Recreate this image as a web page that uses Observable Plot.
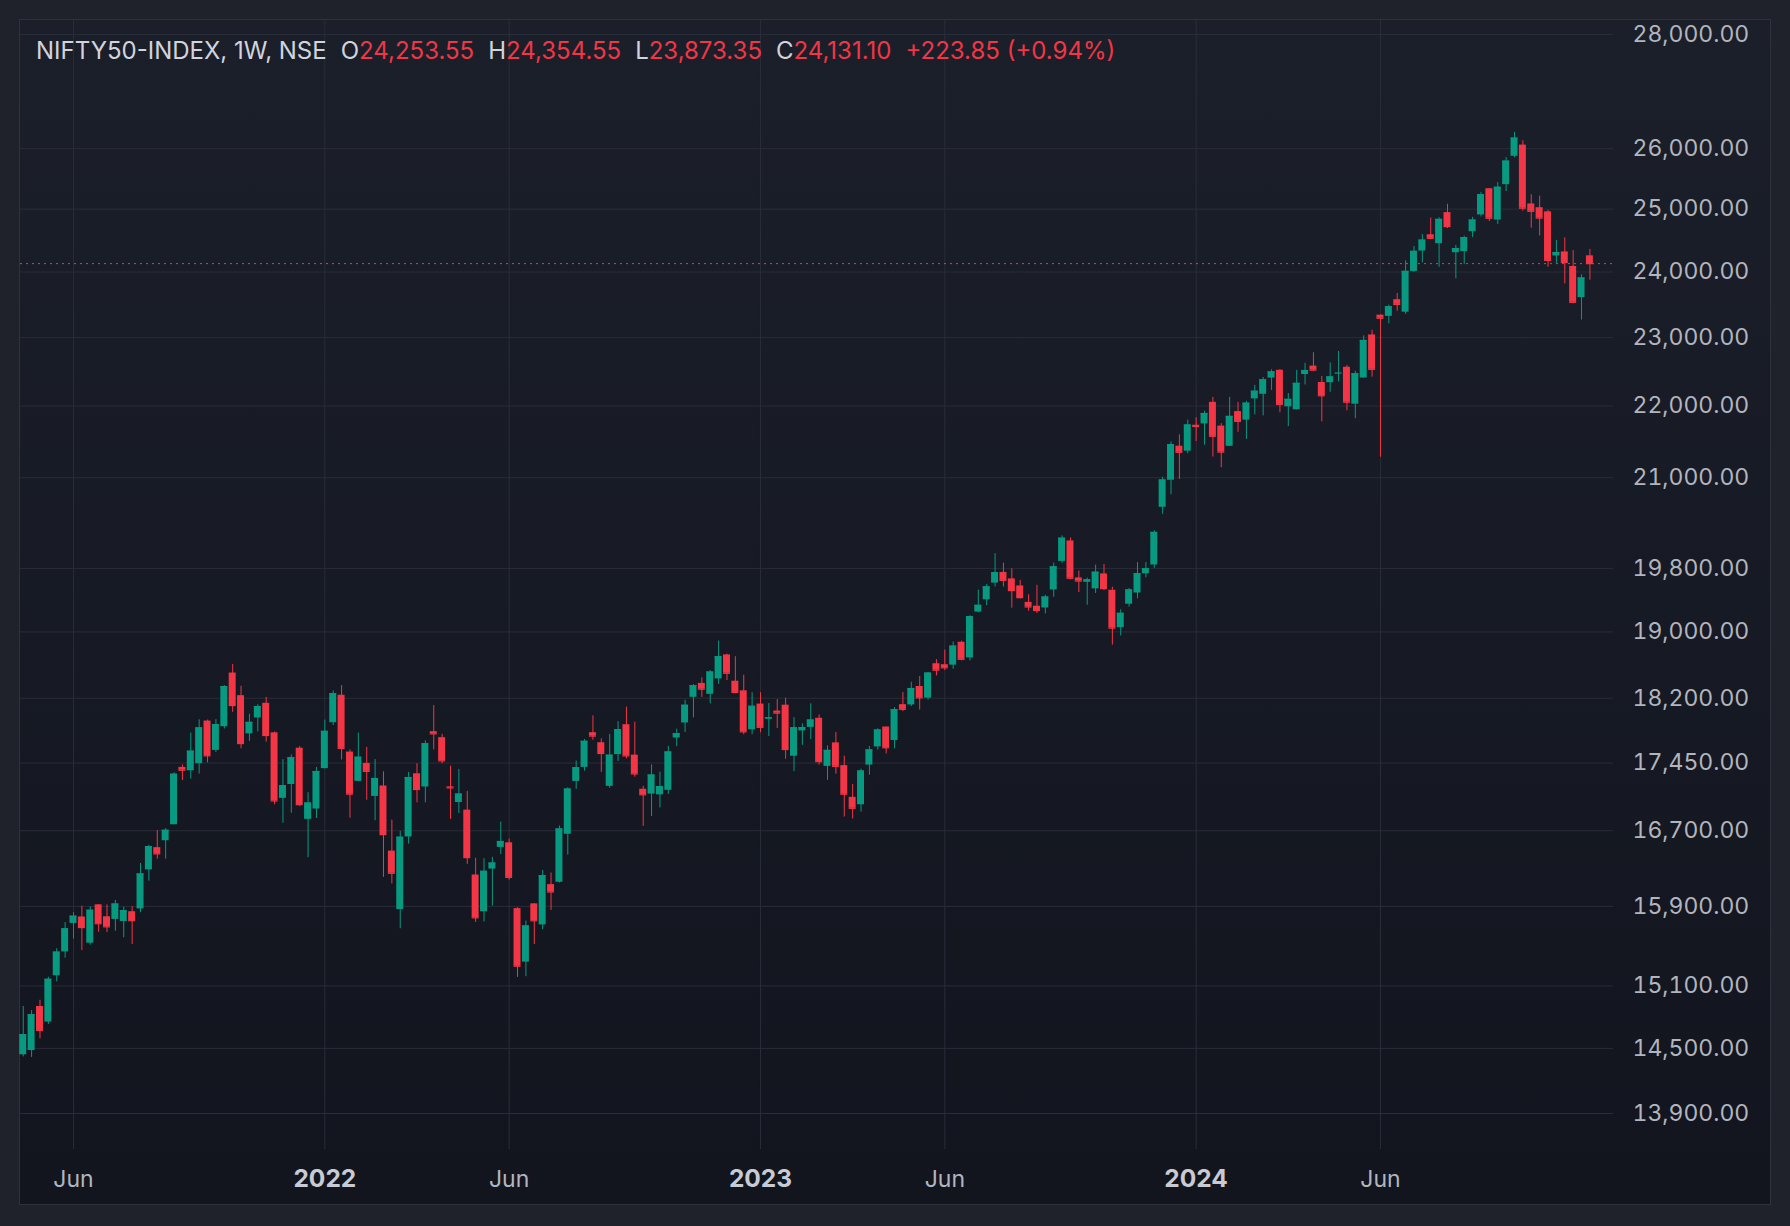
<!DOCTYPE html>
<html><head><meta charset="utf-8">
<script src="https://cdn.jsdelivr.net/npm/d3@7"></script>
<script src="https://cdn.jsdelivr.net/npm/@observablehq/plot@0.6"></script>
<style>
html,body{margin:0;padding:0;background:#1f222a;width:1790px;height:1226px;overflow:hidden;}
#pane{position:absolute;left:19px;top:19px;width:1750px;height:1184px;border:1px solid #2e323d;background:linear-gradient(#1b1f2a,#12151e);}
#chart{position:absolute;left:0;top:0;}
#header{position:absolute;left:36px;top:37px;font-family:Inter,"Noto Sans",sans-serif;font-size:24px;line-height:28px;color:#d1d4dc;white-space:pre;}
#header .v{color:#f23645}
#header .g{margin-left:14px}
</style></head><body>
<div id="pane"></div>
<div id="chart"></div>
<div id="header"></div>
<script>
const symbolLabel = "NIFTY50-INDEX, 1W, NSE";
const changeLabel = "+223.85 (+0.94%)";

const weeks = [
"2021-04-26","2021-05-03","2021-05-10","2021-05-17","2021-05-24","2021-05-31","2021-06-07","2021-06-14","2021-06-21","2021-06-28",
"2021-07-05","2021-07-12","2021-07-19","2021-07-26","2021-08-02","2021-08-09","2021-08-16","2021-08-23","2021-08-30","2021-09-06",
"2021-09-13","2021-09-20","2021-09-27","2021-10-04","2021-10-11","2021-10-18","2021-10-25","2021-11-01","2021-11-08","2021-11-15",
"2021-11-22","2021-11-29","2021-12-06","2021-12-13","2021-12-20","2021-12-27","2022-01-03","2022-01-10","2022-01-17","2022-01-24",
"2022-01-31","2022-02-07","2022-02-14","2022-02-21","2022-02-28","2022-03-07","2022-03-14","2022-03-21","2022-03-28","2022-04-04",
"2022-04-11","2022-04-18","2022-04-25","2022-05-02","2022-05-09","2022-05-16","2022-05-23","2022-05-30","2022-06-06","2022-06-13",
"2022-06-20","2022-06-27","2022-07-04","2022-07-11","2022-07-18","2022-07-25","2022-08-01","2022-08-08","2022-08-15","2022-08-22",
"2022-08-29","2022-09-05","2022-09-12","2022-09-19","2022-09-26","2022-10-03","2022-10-10","2022-10-17","2022-10-24","2022-10-31",
"2022-11-07","2022-11-14","2022-11-21","2022-11-28","2022-12-05","2022-12-12","2022-12-19","2022-12-26","2023-01-02","2023-01-09",
"2023-01-16","2023-01-23","2023-01-30","2023-02-06","2023-02-13","2023-02-20","2023-02-27","2023-03-06","2023-03-13","2023-03-20",
"2023-03-27","2023-04-03","2023-04-10","2023-04-17","2023-04-24","2023-05-01","2023-05-08","2023-05-15","2023-05-22","2023-05-29",
"2023-06-05","2023-06-12","2023-06-19","2023-06-26","2023-07-03","2023-07-10","2023-07-17","2023-07-24","2023-07-31","2023-08-07",
"2023-08-14","2023-08-21","2023-08-28","2023-09-04","2023-09-11","2023-09-18","2023-09-25","2023-10-02","2023-10-09","2023-10-16",
"2023-10-23","2023-10-30","2023-11-06","2023-11-13","2023-11-20","2023-11-27","2023-12-04","2023-12-11","2023-12-18","2023-12-25",
"2024-01-01","2024-01-08","2024-01-15","2024-01-22","2024-01-29","2024-02-05","2024-02-12","2024-02-19","2024-02-26","2024-03-04",
"2024-03-11","2024-03-18","2024-03-25","2024-04-01","2024-04-08","2024-04-15","2024-04-22","2024-04-29","2024-05-06","2024-05-13",
"2024-05-20","2024-05-27","2024-06-03","2024-06-10","2024-06-17","2024-06-24","2024-07-01","2024-07-08","2024-07-15","2024-07-22",
"2024-07-29","2024-08-05","2024-08-12","2024-08-19","2024-08-26","2024-09-02","2024-09-09","2024-09-16","2024-09-23","2024-09-30",
"2024-10-07","2024-10-14","2024-10-21","2024-10-28","2024-11-04","2024-11-11","2024-11-18","2024-11-25"];

const open = [
14440,14480,14900,14750,15200,15437,15725,15791,15525,15916,
15793,15766,15745,15845,15874,16281,16518,16592,16765,17401,
17363,17443,17932,17594,17867,18500,18230,17784,17968,18140,
17796,17055,17209,17619,16824,16937,17387,17913,18235,17575,
17244,17446,17076,17192,16481,15867,16633,17329,17181,17809,
17740,17183,17009,16925,16227,15845,16290,16520,16570,15877,
15335,15926,15710,16126,16151,16662,17243,17401,17797,17682,
17188,17546,17890,17540,17156,17102,17094,17144,17736,17910,
18211,18376,18246,18430,18719,18402,18288,17831,18131,17955,
18049,18118,17527,17818,17859,17965,17412,17680,17421,17066,
16984,17427,17634,17863,17707,18124,18121,18339,18201,18612,
18600,18595,18873,18683,19246,19400,19612,19748,19666,19576,
19368,19320,19298,19525,19890,20156,19678,19622,19539,19729,
19521,19053,19345,19486,19731,19844,20601,20966,21434,21365,
21728,21747,22053,21716,21433,21921,21800,22103,22169,22403,
22517,21990,21947,22455,22578,22339,22336,22475,22561,22027,
22404,23039,23337,23319,23573,23382,24009,24329,24587,24445,
24943,24302,24320,24636,24906,25333,24823,25400,25872,26061,
25084,25023,24956,24251,24315,24087,23605,24253.55];

const high = [
14900,14860,14960,15185,15469,15733,15835,15901,15895,15916,
15915,15962,15890,15897,16349,16543,16702,16722,17340,17430,
17793,17947,17943,17948,18350,18604,18342,18012,18123,18210,
17805,17489,17543,17639,17118,17400,17944,18286,18350,17599,
17794,17629,17490,17351,16815,16694,17344,17442,17703,18114,
17779,17414,17377,17132,16404,16400,16414,16794,16610,15886,
15749,15927,16275,16248,16752,17172,17474,17719,17992,17726,
17778,17926,18096,17919,17188,17429,17348,17640,17838,18176,
18362,18442,18529,18888,18728,18697,18473,18265,18265,18137,
18184,18201,17972,17900,18134,18004,17645,17800,17529,17208,
17381,17638,17842,17863,18089,18267,18389,18458,18508,18662,
18777,18876,18887,19201,19523,19595,19991,19867,19795,19646,
19465,19584,19457,19867,20222,20195,19766,19676,19843,19850,
19560,19276,19544,19875,19875,20291,21006,21492,21593,21801,
21834,21928,22124,21750,22126,22053,22068,22297,22412,22525,
22527,22180,22516,22619,22775,22427,22625,22794,22588,22502,
23026,23110,23338,23490,23667,24174,24401,24592,24854,24861,
25078,24419,24563,24867,25268,25333,25433,25849,26277,26134,
25234,25212,24978,24498,24537,24336,23956,24354.55];

const low = [
14420,14416,14590,14727,15140,15374,15567,15450,15505,15635,
15632,15645,15580,15512,15834,16162,16395,16395,16765,17254,
17269,17327,17452,17571,17840,18034,17613,17697,17806,17688,
16983,16782,16891,16966,16410,16833,17383,17880,17485,16836,
17244,17034,16809,16203,16133,15671,16556,17006,17006,17600,
17442,16824,16888,16340,15735,15740,15903,16444,16172,15184,
15191,15511,15661,15858,16142,16438,17154,17359,17710,17345,
17167,17468,17497,17291,16748,16855,16950,17098,17637,17800,
17969,18209,18133,18365,18410,18255,17774,17774,17796,17753,
17845,17493,17353,17652,17719,17427,17255,17324,16850,16828,
16902,17312,17597,17553,17612,18042,18101,18060,18178,18464,
18529,18545,18647,18647,19236,19327,19562,19563,19296,19412,
19257,19229,19224,19432,19865,19657,19492,19333,19480,19518,
18838,18950,19309,19414,19680,19801,20507,20770,20977,21330,
21500,21448,21285,21137,21429,21629,21530,21875,21860,22224,
21905,21710,21947,22303,22503,21777,22198,22348,21932,21821,
22404,22417,21281,23206,23398,23350,23992,24141,24509,24074,
24686,23894,24116,24542,24873,24801,24753,25286,25847,24966,
24694,24567,24074,24135,23816,23509,23263,23873.35];

const close = [
14630,14820,14670,15165,15435,15670,15799,15683,15860,15722,
15690,15924,15856,15753,16238,16529,16451,16705,17324,17369,
17585,17853,17532,17891,18338,18114,17672,17917,18102,17765,
17026,17196,17511,16985,17003,17354,17813,18255,17617,17101,
17516,17356,17276,16658,16245,16630,17287,17153,17670,17784,
17475,17171,17102,16411,15782,16266,16353,16584,16202,15294,
15699,15752,16220,16049,16719,17158,17397,17698,17758,17559,
17539,17833,17531,17327,17094,17315,17186,17576,17786,18117,
18349,18307,18512,18697,18497,18269,17807,18105,17859,17970,
18025,17604,17854,17856,17944,17466,17594,17413,17100,16945,
17360,17599,17828,17624,18065,18069,18315,18204,18499,18534,
18563,18826,18665,19189,19331,19564,19745,19646,19517,19428,
19310,19266,19435,19820,20192,19674,19638,19653,19751,19542,
19047,19231,19525,19732,19795,20268,20969,21457,21349,21731,
21711,21894,21572,21352,21853,21782,22041,22213,22378,22493,
22023,22096,22327,22513,22519,22147,22420,22476,22055,22466,
22957,22531,23290,23465,23501,24010,24324,24502,24530,24834,
24718,24368,24541,24823,25236,24852,25357,25791,26179,25015,
24964,24854,24181,24304,24148,23532,23907,24131.10];

const yTicks = [28000,26000,25000,24000,23000,22000,21000,19800,19000,18200,17450,16700,15900,15100,14500,13900];
const xTickWeeks = ["2021-06-07","2022-01-03","2022-06-06","2023-01-02","2023-06-05","2024-01-01","2024-06-03"];
const xTickLabels = ["Jun","2022","Jun","2023","Jun","2024","Jun"];
const xTickIsYear = [false,true,false,true,false,true,false];

[open,high,low,close].forEach((a,k)=>{ if (a.length!==weeks.length) throw new Error("length mismatch "+k+": "+a.length+" vs "+weeks.length); });

const candles = weeks.map((w,i)=>({week:w, open:open[i], high:high[i], low:low[i], close:close[i]}));
const up = candles.filter(d=>d.close>=d.open);
const down = candles.filter(d=>d.close<d.open);
const xt = xTickWeeks.map((w,i)=>({week:w, label:xTickLabels[i], year:xTickIsYear[i]}));

const GREEN="#089981", RED="#f23645", GRID="#292d39";
const fmt = d3.format(",.2f");

const bodyOpts = {insetLeft:0.7, insetRight:0.7};
const plot = Plot.plot({
  width:1790, height:1226,
  marginLeft:20, marginRight:177, marginTop:20, marginBottom:77,
  style:{background:"transparent", fontFamily:"Inter, 'Noto Sans', sans-serif", fontSize:"23px", color:"#b2b5be", overflow:"visible"},
  x:{type:"band", domain:weeks, range:[18.54,1593.6], paddingInner:0, paddingOuter:0, axis:null},
  y:{type:"log", domain:[13900,28000], range:[1113,34], axis:null},
  marks:[
    Plot.ruleY(yTicks,{stroke:GRID}),
    Plot.ruleX(xTickWeeks,{stroke:GRID}),
    Plot.ruleX(up,{x:"week",y1:"low",y2:"high",stroke:GREEN,strokeWidth:1}),
    Plot.ruleX(down,{x:"week",y1:"low",y2:"high",stroke:RED,strokeWidth:1}),
    Plot.barY(up,{x:"week",y1:"open",y2:"close",fill:GREEN,...bodyOpts}),
    Plot.barY(down,{x:"week",y1:"open",y2:"close",fill:RED,...bodyOpts}),
    Plot.tickY(up,{x:"week",y:"close",stroke:GREEN,strokeWidth:1.2,...bodyOpts}),
    Plot.tickY(down,{x:"week",y:"close",stroke:RED,strokeWidth:1.2,...bodyOpts}),
    Plot.ruleY([close[close.length-1]],{stroke:RED,strokeWidth:1,strokeDasharray:"2,4"}),
    Plot.axisY({ticks:yTicks, anchor:"right", tickSize:0, tickPadding:19, tickFormat:fmt, fill:"#b2b5be", fontSize:23}),
    Plot.text(xt.filter(d=>!d.year),{x:"week",text:"label",frameAnchor:"bottom",dy:30,lineAnchor:"middle",fill:"#b2b5be",fontSize:23}),
    Plot.text(xt.filter(d=>d.year),{x:"week",text:"label",frameAnchor:"bottom",dy:30,lineAnchor:"middle",fill:"#c8cbd3",fontSize:24.5,fontWeight:700})
  ]
});
document.getElementById("chart").appendChild(plot);

const last = candles[candles.length-1];
const h = document.getElementById("header");
const parts = [
  `<span>${symbolLabel}</span>`,
  `<span class="g">O<span class="v">${fmt(last.open)}</span></span>`,
  `<span class="g">H<span class="v">${fmt(last.high)}</span></span>`,
  `<span class="g">L<span class="v">${fmt(last.low)}</span></span>`,
  `<span class="g">C<span class="v">${fmt(last.close)}</span></span>`,
  `<span class="g v">${changeLabel}</span>`
];
h.innerHTML = parts.join("");
</script>
</body></html>
